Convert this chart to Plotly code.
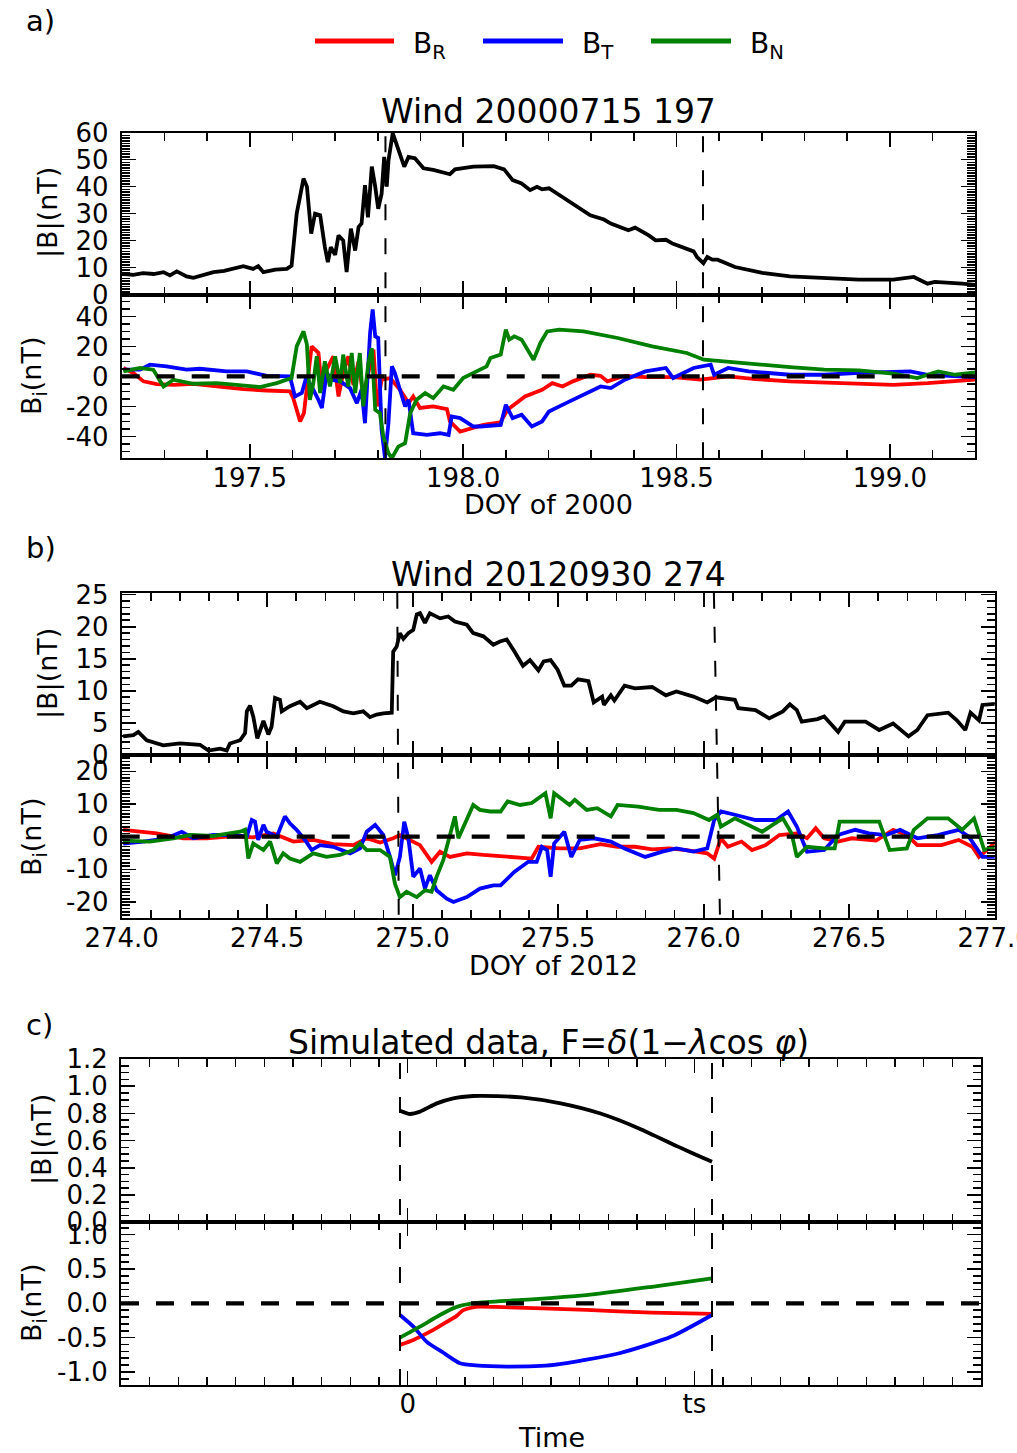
import numpy as np
import plotly.graph_objects as go

FONT = "DejaVu Sans"
W, H = 1017, 1453
RED, BLUE, GREEN = "#ff0000", "#0000ff", "#008000"

# ---------------- Panel a: Wind 20000715 (DOY 197 of 2000) ----------------
a_B = [(197.2,7.7),(197.227,7.3),(197.25,7.9),(197.275,7.6),(197.298,8.3),(197.313,7.1),(197.329,8.6),
       (197.352,6.7),(197.368,6.2),(197.39,7.2),(197.415,8.3),(197.44,8.8),(197.462,9.5),(197.485,10.5),
       (197.508,9.5),(197.52,10.5),(197.532,8.3),(197.56,9.2),(197.587,9.5),(197.598,10.7),(197.61,30),
       (197.618,36.2),(197.626,43),(197.634,40),(197.644,22.6),(197.653,30),(197.665,29.4),(197.676,17.6),
       (197.683,12),(197.69,17.6),(197.7,14.7),(197.708,21.9),(197.719,20),(197.727,8.3),(197.737,24.4),
       (197.747,16.3),(197.755,25),(197.762,26.3),(197.77,40.5),(197.777,28.6),(197.786,47.4),(197.794,40),
       (197.801,31.8),(197.809,37.4),(197.815,51),(197.821,40),(197.825,49.6),(197.835,59.8),(197.848,54),
       (197.862,47.4),(197.872,51),(197.887,50.5),(197.907,46.8),(197.93,46.2),(197.969,44.6),(197.981,46.4),
       (198.024,47.4),(198.072,47.6),(198.096,46.4),(198.116,42.4),(198.137,41.2),(198.157,38.7),(198.173,39.9),
       (198.185,39),(198.201,39.4),(198.233,36.2),(198.274,31.9),(198.298,29.4),(198.33,27.8),(198.346,26.3),
       (198.387,23.8),(198.403,24.8),(198.435,21.9),(198.451,20.1),(198.475,20.3),(198.492,18.8),(198.54,16),
       (198.548,13.9),(198.563,11.6),(198.572,13.9),(198.584,12.9),(198.596,12.9),(198.637,10.2),(198.701,8),
       (198.766,6.7),(198.846,6.1),(198.927,5.5),(199.008,5.5),(199.056,6.5),(199.088,4),(199.105,4.7),
       (199.169,4),(199.2,3.6)]
a_BR = [(197.204,5.6),(197.227,2.3),(197.251,-3.3),(197.282,-5.1),(197.321,-5.6),(197.368,-4.9),(197.423,-6.7),
        (197.485,-8.5),(197.54,-9.4),(197.594,-10),(197.602,-14.5),(197.618,-30),(197.627,-24.5),(197.637,2.3),
        (197.645,20),(197.661,15.6),(197.669,-9),(197.68,4.5),(197.696,13.4),(197.708,-13.4),(197.719,2.3),
        (197.731,13.4),(197.743,-5.6),(197.755,10),(197.766,-13.4),(197.778,2.3),(197.79,17.8),(197.798,-20),
        (197.809,-2.2),(197.829,-1.1),(197.852,-8.9),(197.872,-17.8),(197.883,-13.4),(197.899,-21),(197.93,-20),
        (197.962,-21.8),(197.969,-30),(197.993,-36.8),(198.009,-35.6),(198.047,-32.3),(198.087,-30.7),
        (198.104,-22.3),(198.145,-13.4),(198.185,-8.9),(198.209,-4.5),(198.233,-6.7),(198.257,-3.3),(198.298,1.1),
        (198.322,0.4),(198.338,-3.3),(198.379,0.4),(198.427,-0.5),(198.492,-0.5),(198.556,-2.2),(198.621,0),
        (198.685,-1.8),(198.766,-3.3),(198.846,-4),(198.927,-4.5),(199.008,-5.6),(199.088,-4.5),(199.2,-2.2)]
a_BT = [(197.204,4.5),(197.243,4.5),(197.266,7.8),(197.305,6.7),(197.352,4.5),(197.383,5.1),(197.446,3.3),
        (197.493,3.3),(197.54,0.4),(197.594,0),(197.606,-13.4),(197.622,-11.1),(197.632,-1.1),(197.645,-6.7),
        (197.661,-15.6),(197.669,-21),(197.68,2.3),(197.692,-2.2),(197.712,-3.3),(197.735,-7.8),(197.751,-17.8),
        (197.762,-8.9),(197.77,-31.2),(197.782,29),(197.788,44.6),(197.794,26.7),(197.801,25.6),(197.809,-35.6),
        (197.817,-54.5),(197.825,-31),(197.833,6.7),(197.84,2.3),(197.852,-8.9),(197.864,-20),(197.872,-15.6),
        (197.883,-37.9),(197.915,-39),(197.946,-37.9),(197.966,-39),(197.973,-26.7),(197.993,-27.8),
        (198.024,-33.4),(198.04,-33.4),(198.088,-32.3),(198.1,-18.9),(198.116,-27.8),(198.137,-25.6),
        (198.161,-33.4),(198.185,-30),(198.201,-23.4),(198.241,-17.8),(198.282,-12.3),(198.322,-6.7),
        (198.346,-7.8),(198.379,-2.2),(198.427,3.3),(198.475,5.6),(198.492,-1.1),(198.54,5.6),(198.58,7.8),
        (198.588,1.1),(198.621,5.6),(198.669,3.3),(198.766,1.1),(198.846,1.1),(198.927,2.3),(199.048,3.3),
        (199.088,1.1),(199.2,-0.5)]
a_BN = [(197.204,3.3),(197.243,5.6),(197.274,4.5),(197.298,-6.7),(197.321,-2.2),(197.368,-4.9),(197.423,-4.5),
        (197.477,-5.6),(197.524,-7.1),(197.563,-4.5),(197.598,-1.1),(197.61,20),(197.626,30),(197.634,21.2),
        (197.641,-15.6),(197.649,-4.5),(197.657,13.4),(197.665,-11.1),(197.676,10),(197.688,-6.7),(197.7,13.4),
        (197.712,-4.5),(197.719,14.5),(197.731,-6.7),(197.739,15.6),(197.747,-11.1),(197.758,15.6),(197.766,-20),
        (197.778,8.9),(197.786,18.9),(197.794,-22.3),(197.805,-24.5),(197.813,-40),(197.825,-51.2),
        (197.833,-54.5),(197.848,-46.8),(197.864,-44.6),(197.876,-24.5),(197.891,-15.6),(197.911,-11.1),
        (197.93,-14.5),(197.954,-6.7),(197.977,-8.9),(198.0,-1.1),(198.024,2.3),(198.055,6.7),(198.064,12.3),
        (198.088,14.5),(198.1,31.2),(198.108,24.5),(198.12,26.7),(198.137,24.5),(198.165,11.1),(198.181,22.3),
        (198.197,30),(198.225,31.2),(198.282,30),(198.362,25.6),(198.443,20),(198.524,15.6),(198.564,11.1),
        (198.605,10),(198.685,7.8),(198.766,6.2),(198.846,4.5),(198.927,4),(199.008,1.8),(199.064,-1.1),
        (199.113,3.3),(199.153,1.1),(199.2,2.7)]
a_bounds = [197.818, 198.562]
a_xticks = [197.5, 198.0, 198.5, 199.0]

# ---------------- Panel b: Wind 20120930 (DOY 274 of 2012) ----------------
b_B = [(274.005,2.9),(274.04,3.1),(274.057,3.6),(274.086,2.3),(274.143,1.5),(274.2,1.8),(274.269,1.6),
       (274.298,0.7),(274.338,1.0),(274.361,0.7),(274.372,1.8),(274.407,2.3),(274.424,3.4),(274.43,6.8),
       (274.441,7.7),(274.452,6),(274.466,2.6),(274.487,5.3),(274.504,3.2),(274.515,4.4),(274.527,8.9),
       (274.544,8.6),(274.55,6.8),(274.578,7.6),(274.613,8.3),(274.636,7.3),(274.681,8.3),(274.727,7.6),
       (274.762,6.8),(274.796,6.5),(274.83,6.8),(274.853,5.9),(274.876,6.3),(274.899,6.5),(274.928,6.6),
       (274.933,16.1),(274.945,16.9),(274.956,19),(274.968,18.1),(274.985,19),(275.002,19.5),(275.014,21.9),
       (275.025,22.1),(275.042,20.6),(275.059,22.1),(275.094,21.3),(275.122,21.6),(275.145,20.8),(275.186,20.3),
       (275.208,19),(275.243,18.5),(275.277,17.2),(275.3,17.7),(275.323,18),(275.346,16.4),(275.379,13.9),
       (275.403,14.8),(275.432,13.2),(275.45,14.6),(275.474,14.8),(275.498,13.3),(275.521,10.8),(275.545,10.8),
       (275.568,11.8),(275.604,11.5),(275.622,8.2),(275.651,9.1),(275.657,7.8),(275.681,9.3),(275.693,8.5),
       (275.728,10.8),(275.764,10.4),(275.823,10.6),(275.87,9.3),(275.906,9.9),(275.965,9.1),(276.012,8.2),
       (276.042,9),(276.107,8.6),(276.119,7.3),(276.178,7.0),(276.225,5.7),(276.272,6.8),(276.296,7.9),
       (276.32,7.0),(276.337,5.2),(276.391,5.6),(276.414,6),(276.462,3.6),(276.485,5.2),(276.556,5.2),
       (276.603,3.9),(276.651,4.9),(276.704,2.9),(276.734,3.9),(276.769,6.2),(276.84,6.6),(276.87,5.4),
       (276.899,3.9),(276.917,6.6),(276.946,5.4),(276.958,7.8),(277.005,8)]
b_BR = [(274.005,2.1),(274.063,1.5),(274.12,1.0),(274.212,-0.5),(274.292,-0.5),(274.384,0.2),(274.452,-0.2),
        (274.521,1.0),(274.59,-1.5),(274.658,-1.0),(274.727,-2.3),(274.796,-2.6),(274.842,-0.5),(274.888,-1.8),
        (274.933,-0.5),(274.956,0.5),(274.991,-1.0),(275.025,-2.6),(275.065,-7.7),(275.094,-4.6),(275.128,-6.2),
        (275.186,-5.1),(275.243,-5.6),(275.3,-5.9),(275.349,-6.2),(275.409,-6.7),(275.432,-3.1),(275.503,-3.6),
        (275.574,-3.6),(275.645,-2.3),(275.704,-3.1),(275.764,-3.1),(275.823,-3.9),(275.882,-3.6),(275.941,-4.1),
        (276.012,-5.1),(276.036,-6.7),(276.059,-0.5),(276.083,-3.1),(276.13,-1.5),(276.166,-4.1),(276.213,-2.6),
        (276.26,0.5),(276.32,1.0),(276.355,-0.5),(276.385,2.6),(276.414,-0.5),(276.462,-1.5),(276.509,-0.5),
        (276.592,-1.2),(276.651,2.1),(276.698,0.5),(276.734,-2.6),(276.817,-2.6),(276.876,-1.0),(276.923,-3.1),
        (276.946,-6.2),(277.005,-1.5)]
b_BT = [(274.005,-2.1),(274.074,-1.5),(274.155,-0.5),(274.206,1.5),(274.246,-0.5),(274.315,0.5),(274.384,0.5),
        (274.43,0),(274.447,5.1),(274.458,4.6),(274.469,-1.0),(274.487,3.6),(274.498,1.5),(274.533,0),
        (274.561,6.2),(274.578,4.1),(274.601,2.1),(274.63,-1.0),(274.653,-4.1),(274.681,-2.6),(274.727,-3.1),
        (274.785,-5.1),(274.819,-3.6),(274.842,1.5),(274.871,3.6),(274.899,0.5),(274.922,-6.2),(274.939,-11.8),
        (274.956,-6.2),(274.971,4.6),(274.985,-0.5),(275.002,-12.3),(275.025,-9.7),(275.042,-15.9),
        (275.059,-11.8),(275.082,-16.4),(275.117,-19),(275.14,-20),(275.186,-18.5),(275.231,-15.9),
        (275.277,-14.9),(275.302,-14.9),(275.349,-10.8),(275.397,-7.7),(275.426,-7.7),(275.444,-3.1),
        (275.462,-4.1),(275.474,-12.3),(275.486,-2.1),(275.521,1.5),(275.545,-6.2),(275.574,-1.0),(275.622,-0.5),
        (275.681,-1.5),(275.728,-3.6),(275.799,-6.2),(275.858,-4.6),(275.906,-3.6),(275.965,-4.6),(276.012,-3.6),
        (276.036,5.1),(276.059,7.7),(276.107,6.7),(276.178,5.1),(276.249,5.1),(276.29,7.7),(276.32,3.1),
        (276.355,-4.6),(276.414,-4.1),(276.462,0.5),(276.521,2.1),(276.568,1.0),(276.627,0.5),(276.675,2.1),
        (276.734,-0.5),(276.804,0.5),(276.876,2.1),(276.911,0),(276.958,-6.2),(277.005,-6.2)]
b_BN = [(274.005,-1.2),(274.097,-1.5),(274.177,-0.5),(274.235,0.5),(274.315,0.2),(274.407,1.5),(274.424,2.1),
        (274.435,-6.7),(274.452,-2.1),(274.487,-4.1),(274.51,-1.5),(274.533,-8.2),(274.555,-5.1),(274.578,-6.7),
        (274.613,-7.7),(274.658,-5.1),(274.704,-6.2),(274.75,-5.6),(274.796,-4.1),(274.819,-2.1),(274.842,-4.1),
        (274.888,-4.1),(274.922,-6.2),(274.939,-14.4),(274.956,-18.5),(274.979,-16.9),(275.014,-18.5),
        (275.042,-16.4),(275.065,-16.9),(275.082,-12.3),(275.105,-7.2),(275.128,0),(275.145,6.2),(275.157,-0.5),
        (275.186,5.1),(275.208,9.7),(275.231,8.2),(275.266,7.7),(275.302,7.7),(275.326,10.8),(275.369,9.7),
        (275.409,10.3),(275.456,13.3),(275.474,5.6),(275.486,13.3),(275.539,9.7),(275.557,11.3),(275.598,8.2),
        (275.634,8.7),(275.681,6.2),(275.704,9.7),(275.775,9.2),(275.846,8.2),(275.906,8.2),(275.965,7.2),
        (276.018,5.1),(276.047,6.7),(276.059,3.1),(276.107,5.6),(276.154,3.6),(276.201,1.5),(276.237,3.6),
        (276.272,5.6),(276.302,1.0),(276.32,-6.2),(276.355,-3.1),(276.414,-3.6),(276.45,-3.6),(276.467,4.6),
        (276.533,4.6),(276.603,4.6),(276.639,-4.1),(276.698,-3.6),(276.722,2.1),(276.769,5.6),(276.84,5.6),
        (276.888,2.1),(276.929,5.6),(276.964,-4.1),(277.005,-3.1)]
b_bounds_top = [274.947, 276.035]
b_bounds_bot = [274.952, 276.056]
b_xticks = [274.0, 274.5, 275.0, 275.5, 276.0, 276.5, 277.0]

# ---------------- Panel c: simulated data (time in units of the boundary interval) ----------------
c_B = [(0,0.82),(0.032,0.796),(0.064,0.813),(0.118,0.874),(0.171,0.911),(0.235,0.928),(0.264,0.929),
       (0.389,0.918),(0.515,0.874),(0.64,0.801),(0.766,0.69),(0.891,0.556),(0.974,0.47),(1.0,0.445)]
c_BR = [(0,-0.606),(0.043,-0.533),(0.107,-0.388),(0.16,-0.243),(0.18,-0.19),(0.203,-0.1),(0.233,-0.058),
        (0.256,-0.049),(0.306,-0.052),(0.598,-0.097),(0.807,-0.136),(1.0,-0.155)]
c_BT = [(0,-0.17),(0.043,-0.34),(0.085,-0.558),(0.139,-0.72),(0.192,-0.872),(0.243,-0.905),(0.348,-0.921),
        (0.494,-0.897),(0.703,-0.727),(0.87,-0.485),(1.0,-0.17)]
c_BN = [(0,-0.5),(0.064,-0.34),(0.128,-0.17),(0.18,-0.055),(0.243,0.005),(0.389,0.048),(0.598,0.12),
        (0.807,0.241),(1.0,0.363)]
c_bounds = [0.0, 1.0]
c_range = [-0.894, 1.862]
c_xlabels = ["0", "ts"]

# ---------------- layout geometry (pixels) ----------------
def fx(p):
    return p / W


def fy(p):
    return 1 - p / H


panels = {
    "a": dict(x=(121.7, 975.3), top=(132.7, 294.5), bot=(294.5, 458.3)),
    "b": dict(x=(121.7, 994.7), top=(592.7, 755.0), bot=(755.0, 918.3)),
    "c": dict(x=(121.0, 981.0), top=(1059.0, 1222.3), bot=(1222.3, 1385.0)),
}

TICKFONT = dict(family=FONT, size=26, color="black")


def minor(vals, length=8):
    return dict(tickmode="array", tickvals=list(vals), ticks="inside", ticklen=length,
                tickwidth=1.6, tickcolor="black", showgrid=False)


def axis(domain, rng, tickvals, ticktext, anchor, show_labels=True, minor_vals=(), standoff=6):
    return dict(domain=domain, range=rng, anchor=anchor, showline=True, linewidth=2, linecolor="black",
                mirror="ticks", ticks="inside", ticklen=14, tickwidth=1.6, tickcolor="black",
                tickmode="array", tickvals=tickvals, ticktext=ticktext, showticklabels=show_labels,
                tickfont=TICKFONT, ticklabelstandoff=standoff, ticklabeloverflow="allow",
                minor=minor(minor_vals), showgrid=False, zeroline=False, fixedrange=True, automargin=False)


fig = go.Figure()


def add_line(pts, color, xa, ya, width=3.8, name=None, shape="linear"):
    t = [p[0] for p in pts]
    v = [p[1] for p in pts]
    fig.add_trace(go.Scatter(x=t, y=v, mode="lines", name=name, showlegend=False, hoverinfo="skip",
                             line=dict(color=color, width=width, shape=shape, smoothing=0.6),
                             xaxis=xa, yaxis=ya))


# traces
add_line(a_B, "black", "x", "y", name="|B|")
add_line(a_BR, RED, "x2", "y2", name="BR")
add_line(a_BT, BLUE, "x2", "y2", name="BT")
add_line(a_BN, GREEN, "x2", "y2", name="BN")
add_line(b_B, "black", "x3", "y3", name="|B|")
add_line(b_BR, RED, "x4", "y4", name="BR")
add_line(b_BT, BLUE, "x4", "y4", name="BT")
add_line(b_BN, GREEN, "x4", "y4", name="BN")
add_line(c_B, "black", "x5", "y5", name="|B|", shape="spline")
add_line(c_BR, RED, "x6", "y6", name="BR", shape="spline")
add_line(c_BT, BLUE, "x6", "y6", name="BT", shape="spline")
add_line(c_BN, GREEN, "x6", "y6", name="BN", shape="spline")

XSTAND, YSTAND = -5, 6
lay = {}
# panel a
pa = panels["a"]
xd = [fx(pa["x"][0]), fx(pa["x"][1])]
a_minor_x = np.round(np.arange(197.2, 199.2001, 0.1), 3)
lay["xaxis"] = axis(xd, [197.2, 199.2], a_xticks, [f"{v:.1f}" for v in a_xticks], "y", False, a_minor_x)
lay["xaxis2"] = axis(xd, [197.2, 199.2], a_xticks, [f"{v:.1f}" for v in a_xticks], "y2", True, a_minor_x, XSTAND)
lay["yaxis"] = axis([fy(pa["top"][1]), fy(pa["top"][0])], [0, 60], list(range(0, 61, 10)),
                    [str(v) for v in range(0, 61, 10)], "x", True, range(0, 61, 1), YSTAND)
a_bi_ticks = [-40, -20, 0, 20, 40]
lay["yaxis2"] = axis([fy(pa["bot"][1]), fy(pa["bot"][0])], [-54.6, 54.6], a_bi_ticks,
                     [str(v) for v in a_bi_ticks], "x2", True, range(-50, 51, 5), YSTAND)
# panel b
pb = panels["b"]
xd = [fx(pb["x"][0]), fx(pb["x"][1])]
b_minor_x = np.round(np.arange(274.0, 277.0001, 0.1), 3)
lay["xaxis3"] = axis(xd, [274.0, 277.0], b_xticks, [f"{v:.1f}" for v in b_xticks], "y3", False, b_minor_x)
lay["xaxis4"] = axis(xd, [274.0, 277.0], b_xticks, [f"{v:.1f}" for v in b_xticks], "y4", True, b_minor_x, XSTAND)
lay["yaxis3"] = axis([fy(pb["top"][1]), fy(pb["top"][0])], [0, 25.3], list(range(0, 26, 5)),
                     [str(v) for v in range(0, 26, 5)], "x3", True, range(0, 26, 1), YSTAND)
b_bi_ticks = [-20, -10, 0, 10, 20]
lay["yaxis4"] = axis([fy(pb["bot"][1]), fy(pb["bot"][0])], [-25, 25], b_bi_ticks,
                     [str(v) for v in b_bi_ticks], "x4", True, range(-25, 26, 1), YSTAND)
# panel c
pc = panels["c"]
xd = [fx(pc["x"][0]), fx(pc["x"][1])]
c_step = (c_range[1] - c_range[0]) / 30
c_minor_x = [c_range[0] + k * c_step for k in range(31)]
c_major = [c_minor_x[10], c_minor_x[20]]
lay["xaxis5"] = axis(xd, c_range, c_major, c_xlabels, "y5", False, c_minor_x)
lay["xaxis6"] = axis(xd, c_range, c_major, c_xlabels, "y6", True, c_minor_x, XSTAND)
c_top_ticks = [0, 0.2, 0.4, 0.6, 0.8, 1.0, 1.2]
lay["yaxis5"] = axis([fy(pc["top"][1]), fy(pc["top"][0])], [0, 1.2], c_top_ticks,
                     [f"{v:.1f}" for v in c_top_ticks], "x5", True, np.round(np.arange(0, 1.2001, 0.05), 3), YSTAND)
c_bi_ticks = [-1.0, -0.5, 0.0, 0.5, 1.0]
lay["yaxis6"] = axis([fy(pc["bot"][1]), fy(pc["bot"][0])], [-1.19, 1.18], c_bi_ticks,
                     [f"{v:.1f}" for v in c_bi_ticks], "x6", True,
                     np.round(np.arange(-1.1, 1.1001, 0.1), 3), YSTAND)

shapes = []
ZERO_DASH = dict(color="black", width=4.2, dash="18px,17px")
VDASH = dict(color="black", width=2, dash="16px,18px")
for ya, xa in (("y2", "x2"), ("y4", "x4"), ("y6", "x6")):
    shapes.append(dict(type="line", xref=f"{xa} domain", x0=0, x1=1, yref=ya, y0=0, y1=0,
                       line=ZERO_DASH, layer="above"))
for t in a_bounds:
    shapes.append(dict(type="line", xref="x2", x0=t, x1=t, yref="paper",
                       y0=fy(pa["bot"][1]), y1=fy(pa["top"][0]), line=VDASH, layer="above"))
for t0, t1 in zip(b_bounds_top, b_bounds_bot):
    shapes.append(dict(type="line", xref="x4", x0=t0, x1=t1, yref="paper",
                       y0=fy(pb["top"][0]), y1=fy(pb["bot"][1]), line=VDASH, layer="above"))
for t in c_bounds:
    shapes.append(dict(type="line", xref="x6", x0=t, x1=t, yref="paper",
                       y0=fy(pc["bot"][1]), y1=fy(pc["top"][0]), line=VDASH, layer="above"))

# legend (drawn as line samples + labels)
legend_items = [("B<sub>R</sub>", RED, 315, 394), ("B<sub>T</sub>", BLUE, 483, 563), ("B<sub>N</sub>", GREEN, 651, 731)]
ann = []
for label, col, x0, x1 in legend_items:
    shapes.append(dict(type="line", xref="paper", yref="paper", x0=fx(x0), x1=fx(x1), y0=fy(41), y1=fy(41),
                       line=dict(color=col, width=5)))
    ann.append(dict(text=label, x=fx(x1 + 17), y=fy(46), xref="paper", yref="paper", xanchor="left",
                    yanchor="middle", showarrow=False, font=dict(family=FONT, size=28, color="black")))


def text(s, x, y, size, angle=0, xanchor="center"):
    ann.append(dict(text=s, x=fx(x), y=fy(y), xref="paper", yref="paper", xanchor=xanchor, yanchor="middle",
                    showarrow=False, textangle=angle, font=dict(family=FONT, size=size, color="black")))


text("a)", 24, 21, 29, xanchor="left")
text("b)", 24, 548, 29, xanchor="left")
text("c)", 24, 1025, 29, xanchor="left")
text("Wind 20000715 197", 548, 112, 33)
text("Wind 20120930 274", 558, 574, 33)
text("Simulated data, F=<i>δ</i>(1−<i>λ</i>cos <i>φ</i>)", 548, 1042, 33)
text("DOY of 2000", 548, 505, 27)
text("DOY of 2012", 553, 965, 27)
text("Time", 551, 1437, 27)
text("|B|(nT)", 48, 213, 27, angle=-90)
text("B<sub>i</sub>(nT)", 33, 376, 27, angle=-90)
text("|B|(nT)", 48, 674, 27, angle=-90)
text("B<sub>i</sub>(nT)", 33, 837, 27, angle=-90)
text("|B|(nT)", 42, 1140, 27, angle=-90)
text("B<sub>i</sub>(nT)", 33, 1303, 27, angle=-90)

fig.update_layout(width=W, height=H, margin=dict(l=0, r=0, t=0, b=0, autoexpand=False),
                  paper_bgcolor="white", plot_bgcolor="white", showlegend=False, shapes=shapes,
                  annotations=ann, font=dict(family=FONT, color="black"), **lay)

fig.write_html("out.html", config={"displayModeBar": False, "staticPlot": True},
               post_script="document.body.style.margin='0px';document.body.style.padding='0px';"
                           "document.body.style.overflow='hidden';")
